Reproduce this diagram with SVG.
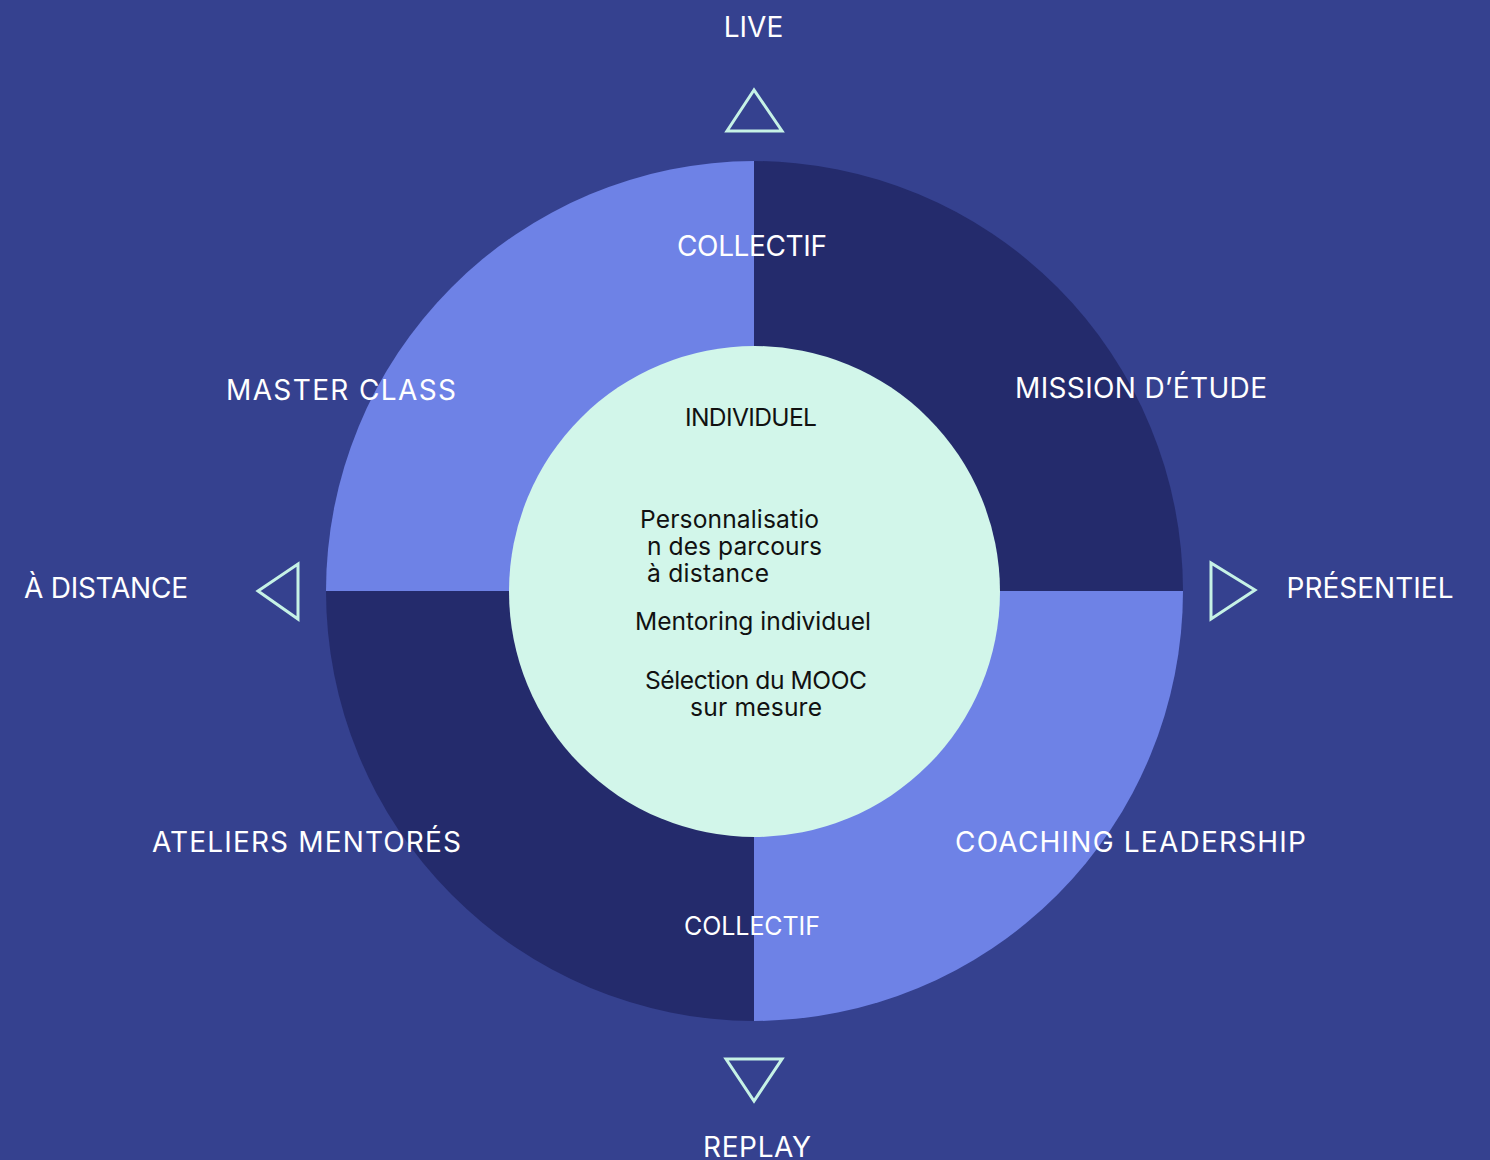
<svg xmlns="http://www.w3.org/2000/svg" width="1490" height="1160" viewBox="0 0 1490 1160">
<style>
.lbl{font-family:Inter,"Liberation Sans",sans-serif;fill:#ffffff;text-anchor:middle}
.big{font-size:28px}
.inner{font-family:Inter,"Liberation Sans",sans-serif;fill:#111111;font-size:24.6px}
.tri{fill:none;stroke:#C6F2E6;stroke-width:3}
</style>
<rect width="1490" height="1160" fill="#35418F"/>
<g id="wheel">
<path d="M754 591 L754 161 A430 430 0 0 0 326 591 Z" fill="#6E82E6"/>
<path d="M754 591 L754 161 A430 430 0 0 1 1183 591 Z" fill="#242B6C"/>
<path d="M754 591 L326 591 A430 430 0 0 0 754 1021 Z" fill="#242B6C"/>
<path d="M754 591 L1183 591 A430 430 0 0 1 754 1021 Z" fill="#6E82E6"/>
</g>
<g id="center">
<circle cx="754.5" cy="591.5" r="245.5" fill="#D2F6EA"/>
<text class="inner" x="751" y="426" text-anchor="middle" font-size="23" textLength="132">INDIVIDUEL</text>
<text class="inner" x="640" y="528" textLength="179">Personnalisatio</text>
<text class="inner" x="647" y="555" textLength="175">n des parcours</text>
<text class="inner" x="647" y="582" textLength="122">à distance</text>
<text class="inner" x="753" y="630" text-anchor="middle" textLength="236">Mentoring individuel</text>
<text class="inner" x="756" y="689" text-anchor="middle" textLength="222">Sélection du MOOC</text>
<text class="inner" x="756" y="716" text-anchor="middle" textLength="132">sur mesure</text>
</g>
<g id="labels">
<text class="lbl big" x="753.5" y="37">LIVE</text>
<text class="lbl big" x="752" y="256" textLength="150">COLLECTIF</text>
<text class="lbl big" x="341" y="400" font-size="30" textLength="230">MASTER CLASS</text>
<text class="lbl big" x="1141" y="398" font-size="30" textLength="252">MISSION D’ÉTUDE</text>
<text class="lbl big" x="106" y="598" textLength="164">À DISTANCE</text>
<text class="lbl big" x="1370" y="598" textLength="167">PRÉSENTIEL</text>
<text class="lbl big" x="306.5" y="852" font-size="30" textLength="309">ATELIERS MENTORÉS</text>
<text class="lbl big" x="1130.5" y="852" font-size="30" textLength="351">COACHING LEADERSHIP</text>
<text class="lbl" x="752" y="935" font-size="25" textLength="136">COLLECTIF</text>
<text class="lbl big" x="757" y="1157" textLength="108">REPLAY</text>
</g>
<g id="arrows">
<polygon class="tri" points="754,90 727,131 782,131"/>
<polygon class="tri" points="258,591 298,564 298,619"/>
<polygon class="tri" points="1255,590 1211,563 1211,619"/>
<polygon class="tri" points="726,1059 782,1059 754,1101"/>
</g>
</svg>
